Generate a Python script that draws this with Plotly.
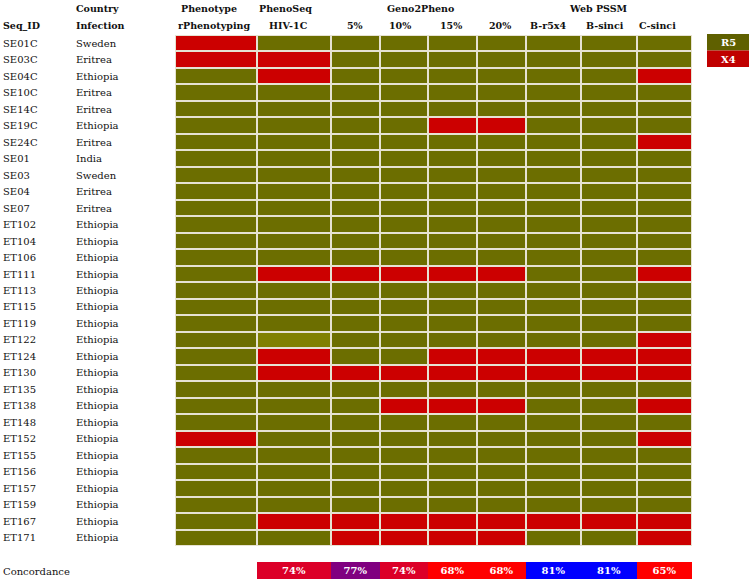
import plotly.graph_objects as go
import numpy as np

# ---------------- data ----------------
seq_ids = ["SE01C", "SE03C", "SE04C", "SE10C", "SE14C", "SE19C", "SE24C", "SE01", "SE03", "SE04",
           "SE07", "ET102", "ET104", "ET106", "ET111", "ET113", "ET115", "ET119", "ET122", "ET124",
           "ET130", "ET135", "ET138", "ET148", "ET152", "ET155", "ET156", "ET157", "ET159", "ET167",
           "ET171"]
countries = ["Sweden", "Eritrea", "Ethiopia", "Eritrea", "Eritrea", "Ethiopia", "Eritrea", "India",
             "Sweden", "Eritrea", "Eritrea"] + ["Ethiopia"] * 20

col_labels = ["rPhenotyping", "HIV-1C", "5%", "10%", "15%", "20%", "B-r5x4", "B-sinci", "C-sinci"]
group_labels = ["Phenotype", "PhenoSeq", "Geno2Pheno", "Web PSSM"]

# tropism call per sample: 0 = R5, 1 = X4, 0.5 = undetermined
rphenotyping = [1, 1, 0, 0, 0, 0, 0, 0, 0, 0, 0, 0, 0, 0, 0, 0, 0, 0, 0, 0, 0, 0, 0, 0, 1, 0, 0, 0, 0, 0, 0]
hiv1c        = [0, 1, 1, 0, 0, 0, 0, 0, 0, 0, 0, 0, 0, 0, 1, 0, 0, 0, 0.5, 1, 1, 0, 0, 0, 0, 0, 0, 0, 0, 1, 0]
g2p_5        = [0, 0, 0, 0, 0, 0, 0, 0, 0, 0, 0, 0, 0, 0, 1, 0, 0, 0, 0, 0, 1, 0, 0, 0, 0, 0, 0, 0, 0, 1, 1]
g2p_10       = [0, 0, 0, 0, 0, 0, 0, 0, 0, 0, 0, 0, 0, 0, 1, 0, 0, 0, 0, 0, 1, 0, 1, 0, 0, 0, 0, 0, 0, 1, 1]
g2p_15       = [0, 0, 0, 0, 0, 1, 0, 0, 0, 0, 0, 0, 0, 0, 1, 0, 0, 0, 0, 1, 1, 0, 1, 0, 0, 0, 0, 0, 0, 1, 1]
g2p_20       = [0, 0, 0, 0, 0, 1, 0, 0, 0, 0, 0, 0, 0, 0, 1, 0, 0, 0, 0, 1, 1, 0, 1, 0, 0, 0, 0, 0, 0, 1, 1]
b_r5x4       = [0, 0, 0, 0, 0, 0, 0, 0, 0, 0, 0, 0, 0, 0, 0, 0, 0, 0, 0, 1, 1, 0, 0, 0, 0, 0, 0, 0, 0, 1, 0]
b_sinci      = [0, 0, 0, 0, 0, 0, 0, 0, 0, 0, 0, 0, 0, 0, 0, 0, 0, 0, 0, 1, 1, 0, 0, 0, 0, 0, 0, 0, 0, 1, 0]
c_sinci      = [0, 0, 1, 0, 0, 0, 1, 0, 0, 0, 0, 0, 0, 0, 1, 0, 0, 0, 1, 1, 1, 0, 1, 0, 1, 0, 0, 0, 0, 1, 1]

concordance = [74, 77, 74, 68, 68, 81, 81, 65]   # HIV-1C .. C-sinci vs rPhenotyping

# ---------------- styling / layout ----------------
W, H = 750, 580
FONT = "DejaVu Serif"
OLIVE, OLIVE_LIGHT, RED = "#6C6E00", "#808000", "#CC0000"
GRID = "#E6E2D2"
conc_colors = ["#DC0028", "#800080", "#DC0028", "#FF0000", "#FF0000", "#0000FF", "#0000FF", "#FF0000"]

col_widths = [82, 74, 49, 48, 49, 49, 55, 56, 55]
grid_left_px, grid_top_px, grid_bottom_px = 175, 35, 546
conc_top_px, conc_bottom_px = 562, 579
group_spans = [(0, 0), (1, 1), (2, 5), (6, 8)]
header_shift = [-2, -6, -1, -4, -2, -2, -6, -4, -7]
group_shift = [-7, -9, -8, -11]

edges = np.concatenate([[0], np.cumsum(col_widths)])
centers = (edges[:-1] + edges[1:]) / 2
total_w = edges[-1]

z = np.array([rphenotyping, hiv1c, g2p_5, g2p_10, g2p_15, g2p_20, b_r5x4, b_sinci, c_sinci]).T

fig = go.Figure()
fig.add_trace(go.Heatmap(
    z=z, x=edges, y=seq_ids, zmin=0, zmax=1,
    colorscale=[[0, OLIVE], [0.3, OLIVE], [0.3, OLIVE_LIGHT], [0.7, OLIVE_LIGHT], [0.7, RED], [1, RED]],
    showscale=False, xgap=2, ygap=2, hoverinfo="skip",
    xaxis="x", yaxis="y",
))

fig.add_trace(go.Bar(
    x=centers[1:], y=[1] * len(concordance), width=col_widths[1:], base=0,
    marker=dict(color=conc_colors, line=dict(width=0)),
    text=[f"<b>{v}%</b>" for v in concordance], textposition="inside",
    insidetextanchor="middle", textangle=0,
    textfont=dict(family=FONT, size=10, color="white"),
    xaxis="x2", yaxis="y2", hoverinfo="skip", showlegend=False, cliponaxis=False,
))

def py(px):
    return 1 - px / H

fig.update_layout(
    width=W, height=H, margin=dict(l=0, r=0, t=0, b=0),
    paper_bgcolor="white", plot_bgcolor=GRID, showlegend=False,
    xaxis=dict(domain=[grid_left_px / W, (grid_left_px + total_w) / W], range=[0, total_w],
               visible=False, fixedrange=True),
    yaxis=dict(domain=[py(grid_bottom_px), py(grid_top_px)], autorange="reversed",
               visible=False, type="category"),
    xaxis2=dict(domain=[(grid_left_px + edges[1]) / W, (grid_left_px + total_w) / W],
                range=[edges[1], total_w], visible=False, anchor="y2"),
    yaxis2=dict(domain=[py(conc_bottom_px), py(conc_top_px)], range=[0, 1], visible=False,
                anchor="x2"),
    uniformtext=dict(minsize=8, mode="show"),
)

ann = []
tf = dict(family=FONT, size=10, color="#111111")
for sid, ctry in zip(seq_ids, countries):
    ann.append(dict(x=1 / W, xref="paper", y=sid, yref="y", text=sid, showarrow=False,
                    xanchor="left", yanchor="middle", font=tf))
    ann.append(dict(x=74 / W, xref="paper", y=sid, yref="y", text=ctry, showarrow=False,
                    xanchor="left", yanchor="middle", font=tf))

bf = dict(family=FONT, size=9.5, color="#111111")
ann.append(dict(x=1 / W, xref="paper", y=py(26), yref="paper", text="<b>Seq_ID</b>", showarrow=False,
                xanchor="left", yanchor="middle", font=bf))
ann.append(dict(x=74 / W, xref="paper", y=py(26), yref="paper", text="<b>Infection</b>", showarrow=False,
                xanchor="left", yanchor="middle", font=bf))
ann.append(dict(x=74 / W, xref="paper", y=py(8), yref="paper", text="<b>Country</b>", showarrow=False,
                xanchor="left", yanchor="middle", font=bf))
for lab, c, s in zip(col_labels, centers, header_shift):
    ann.append(dict(x=c, xref="x", y=py(26), yref="paper", text=f"<b>{lab}</b>", showarrow=False,
                    xanchor="center", yanchor="middle", xshift=s, font=bf))
for lab, (a, b), s in zip(group_labels, group_spans, group_shift):
    ann.append(dict(x=(edges[a] + edges[b + 1]) / 2, xref="x", y=py(8), yref="paper",
                    text=f"<b>{lab}</b>", showarrow=False, xanchor="center", yanchor="middle",
                    xshift=s, font=bf))
ann.append(dict(x=1 / W, xref="paper", y=py(571), yref="paper", text="Concordance", showarrow=False,
                xanchor="left", yanchor="middle", font=tf))

# legend keys
shapes = []
for lab, col, top in [("R5", "#5F6000", 34), ("X4", "#C00000", 50.5)]:
    shapes.append(dict(type="rect", xref="paper", yref="paper", x0=707 / W, x1=749 / W,
                       y0=py(top + 16.5), y1=py(top), fillcolor=col, line=dict(width=0)))
    ann.append(dict(x=728 / W, xref="paper", y=py(top + 8.5), yref="paper", text=f"<b>{lab}</b>",
                    showarrow=False, xanchor="center", yanchor="middle",
                    font=dict(family=FONT, size=10, color="white")))

fig.update_layout(annotations=ann, shapes=shapes)
fig.write_html("out.html", config={"displayModeBar": False},
               post_script="document.body.style.margin='0';")
